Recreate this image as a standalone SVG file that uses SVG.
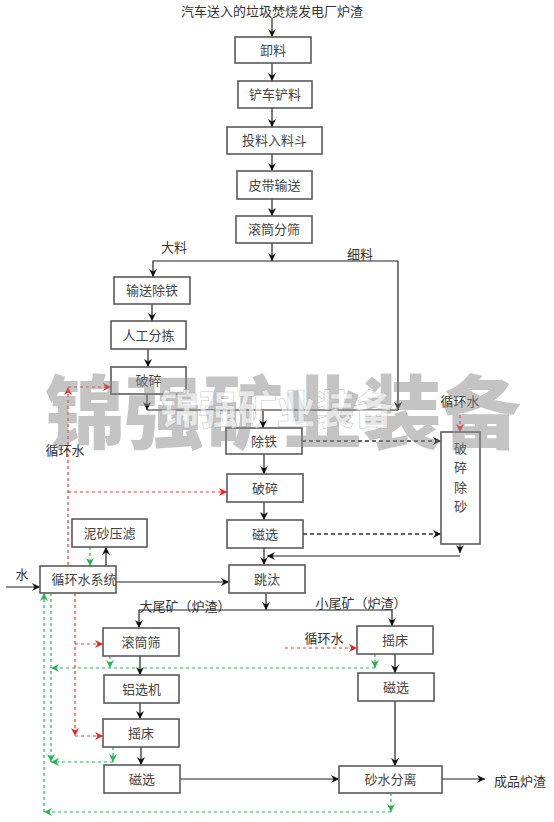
<svg xmlns="http://www.w3.org/2000/svg" width="554" height="822" viewBox="0 0 554 822">
<style>
.box{fill:#fff;stroke:#5a5a5a;stroke-width:1.6}
.t{font-family:"Noto Sans CJK SC","Liberation Serif",serif;font-size:13px;fill:#444;text-anchor:middle}
.lb{font-family:"Noto Sans CJK SC","Liberation Serif",serif;font-size:13px;fill:#333}
.c{fill:none;stroke:#222;stroke-width:1.2}
.cd{fill:none;stroke:#333;stroke-width:1.3;stroke-dasharray:4,3}
.r{fill:none;stroke:#ff3030;stroke-width:1.2;stroke-dasharray:3,3}
.g{fill:none;stroke:#22b85a;stroke-width:1.2;stroke-dasharray:3,3}
.wm{font-family:"Noto Sans CJK SC","DejaVu Sans",sans-serif;font-weight:900;fill:#8a8a8a;opacity:0.5}
</style>
<defs>
<marker id="ab" markerUnits="userSpaceOnUse" markerWidth="9" markerHeight="9" refX="8" refY="4.5" orient="auto"><path d="M0,0.5 L8,4.5 L0,8.5 L2.5,4.5 z" fill="#111"/></marker>
<marker id="ar" markerUnits="userSpaceOnUse" markerWidth="9" markerHeight="9" refX="8" refY="4.5" orient="auto"><path d="M0,0.5 L8,4.5 L0,8.5 L2.5,4.5 z" fill="#ff1a1a"/></marker>
<marker id="ag" markerUnits="userSpaceOnUse" markerWidth="9" markerHeight="9" refX="8" refY="4.5" orient="auto"><path d="M0,0.5 L8,4.5 L0,8.5 L2.5,4.5 z" fill="#1fb552"/></marker>
</defs>
<rect width="554" height="822" fill="#fff"/>

<g id="connectors">
<path class="c" d="M272,18 V37" marker-end="url(#ab)"/>
<path class="c" d="M272,63 V81" marker-end="url(#ab)"/>
<path class="c" d="M272,108 V127" marker-end="url(#ab)"/>
<path class="c" d="M272,154 V171" marker-end="url(#ab)"/>
<path class="c" d="M272,199 V216" marker-end="url(#ab)"/>
<path class="c" d="M272,243 V261" marker-end="url(#ab)"/>
<path class="c" d="M398,261 H153 V277" marker-end="url(#ab)"/>
<path class="c" d="M398,261 V410" marker-end="url(#ab)"/>
<path class="c" d="M152,304 V321" marker-end="url(#ab)"/>
<path class="c" d="M148,349 V367" marker-end="url(#ab)"/>
<path class="c" d="M147,394 V410" marker-end="url(#ab)"/>
<path class="c" d="M147,410 H398"/>
<path class="c" d="M263,411 V428" marker-end="url(#ab)"/>
<path class="cd" d="M302,441 H441" marker-end="url(#ab)"/>
<path class="c" d="M264,454 V474" marker-end="url(#ab)"/>
<path class="c" d="M264,502 V520" marker-end="url(#ab)"/>
<path class="cd" d="M303,534 H441" stroke="#555" marker-end="url(#ab)"/>
<path class="c" d="M264,548 V565" marker-end="url(#ab)"/>
<path class="c" d="M460,544 V553" marker-end="url(#ab)"/>
<path class="c" d="M460,556 H267" marker-end="url(#ab)"/>
<path class="c" d="M116,582 H229" marker-end="url(#ab)"/>
<path class="c" d="M6,587 H40" marker-end="url(#ab)"/>
<path class="c" d="M106,566 V547" marker-end="url(#ab)"/>
<path class="c" d="M266,593 V610" marker-end="url(#ab)"/>
<path class="c" d="M139,610 H392"/>
<path class="c" d="M139,610 V628" marker-end="url(#ab)"/>
<path class="c" d="M392,610 V626" marker-end="url(#ab)"/>
<path class="c" d="M140,656 V675" marker-end="url(#ab)"/>
<path class="c" d="M140,703 V719" marker-end="url(#ab)"/>
<path class="c" d="M141,747 V765" marker-end="url(#ab)"/>
<path class="c" d="M180,779 H339" marker-end="url(#ab)"/>
<path class="c" d="M395,654 V673" marker-end="url(#ab)"/>
<path class="c" d="M395,701 V766" marker-end="url(#ab)"/>
<path class="c" d="M442,779 H485" marker-end="url(#ab)"/>

<path class="r" d="M460,415 V432" marker-end="url(#ar)"/>
<path class="r" d="M68,565 V387" marker-end="url(#ar)"/>
<path class="r" d="M68,387 H111" marker-end="url(#ar)"/>
<path class="r" d="M68,492 H227" marker-end="url(#ar)"/>
<path class="r" d="M75,593 V736" marker-end="url(#ar)"/>
<path class="r" d="M75,644 H103" marker-end="url(#ar)"/>
<path class="r" d="M75,736 H103" marker-end="url(#ar)"/>
<path class="r" d="M285,648 H357" marker-end="url(#ar)"/>

<path class="g" d="M90,547 V566" marker-end="url(#ag)"/>
<path class="g" d="M391,793 V812" marker-end="url(#ag)"/>
<path class="g" d="M391,812 H44" marker-end="url(#ag)"/>
<path class="g" d="M44,812 V593" marker-end="url(#ag)"/>
<path class="g" d="M375,654 V668" marker-end="url(#ag)"/>
<path class="g" d="M375,668 H51" marker-end="url(#ag)"/>
<path class="g" d="M110,656 V668" marker-end="url(#ag)"/>
<path class="g" d="M51,593 V762" marker-end="url(#ag)"/>
<path class="g" d="M113,747 V762" marker-end="url(#ag)"/>
<path class="g" d="M113,762 H51" marker-end="url(#ag)"/>
</g>

<g id="labels">
<text class="lb" x="272" y="16" text-anchor="middle">汽车送入的垃圾焚烧发电厂炉渣</text>
<text class="lb" x="174" y="252" text-anchor="middle">大料</text>
<text class="lb" x="360" y="259" text-anchor="middle">细料</text>
<text class="lb" x="65" y="455" text-anchor="middle">循环水</text>
<text class="lb" x="460" y="406" text-anchor="middle">循环水</text>
<text class="lb" x="22" y="579" text-anchor="middle">水</text>
<text class="lb" x="185" y="611" text-anchor="middle">大尾矿（炉渣）</text>
<text class="lb" x="361" y="608" text-anchor="middle">小尾矿（炉渣）</text>
<text class="lb" x="324" y="643" text-anchor="middle">循环水</text>
<text class="lb" x="520" y="786" text-anchor="middle">成品炉渣</text>
</g>

<g id="n1"><rect class="box" x="235" y="37" width="76" height="26"/><text class="t" x="273" y="55">卸料</text></g>
<g id="n2"><rect class="box" x="238" y="81" width="74" height="27"/><text class="t" x="275" y="99">铲车铲料</text></g>
<g id="n3"><rect class="box" x="227" y="127" width="95" height="27"/><text class="t" x="274.5" y="145">投料入料斗</text></g>
<g id="n4"><rect class="box" x="237" y="171" width="75" height="28"/><text class="t" x="274.5" y="190">皮带输送</text></g>
<g id="n5"><rect class="box" x="236" y="216" width="76" height="27"/><text class="t" x="274" y="234">滚筒分筛</text></g>
<g id="n6"><rect class="box" x="114" y="277" width="76" height="27"/><text class="t" x="152" y="295">输送除铁</text></g>
<g id="n7"><rect class="box" x="111" y="321" width="75" height="28"/><text class="t" x="148.5" y="340">人工分拣</text></g>
<g id="n8"><rect class="box" x="111" y="367" width="75" height="27"/><text class="t" x="148.5" y="385">破碎</text></g>
<g id="n9"><rect class="box" x="226" y="428" width="76" height="26"/><text class="t" x="264" y="446">除铁</text></g>
<g id="n10"><rect class="box" x="441" y="432" width="39" height="112"/><text class="t" x="460.5" y="453">破</text><text class="t" x="460.5" y="472">碎</text><text class="t" x="460.5" y="492">除</text><text class="t" x="460.5" y="511">砂</text></g>
<g id="n11"><rect class="box" x="227" y="474" width="76" height="28"/><text class="t" x="265" y="493">破碎</text></g>
<g id="n12"><rect class="box" x="227" y="520" width="76" height="28"/><text class="t" x="265" y="539">磁选</text></g>
<g id="n13"><rect class="box" x="72" y="519" width="75" height="28"/><text class="t" x="109.5" y="538">泥砂压滤</text></g>
<g id="n14"><rect class="box" x="40" y="566" width="76" height="27"/><text class="t" x="84" y="584">循环水系统</text></g>
<g id="n15"><rect class="box" x="229" y="565" width="76" height="28"/><text class="t" x="267" y="584">跳汰</text></g>
<g id="n16"><rect class="box" x="103" y="628" width="76" height="28"/><text class="t" x="141" y="647">滚筒筛</text></g>
<g id="n17"><rect class="box" x="104" y="675" width="75" height="28"/><text class="t" x="141.5" y="694">铝选机</text></g>
<g id="n18"><rect class="box" x="103" y="719" width="76" height="28"/><text class="t" x="141" y="738">摇床</text></g>
<g id="n19"><rect class="box" x="104" y="765" width="76" height="28"/><text class="t" x="142" y="784">磁选</text></g>
<g id="n20"><rect class="box" x="357" y="626" width="76" height="28"/><text class="t" x="395" y="645">摇床</text></g>
<g id="n21"><rect class="box" x="358" y="673" width="76" height="28"/><text class="t" x="396" y="692">磁选</text></g>
<g id="n22"><rect class="box" x="339" y="766" width="103" height="27"/><text class="t" x="390.5" y="784">砂水分离</text></g>

<g id="watermark">
<text class="wm" x="45" y="442" font-size="80" textLength="476" lengthAdjust="spacingAndGlyphs">锦强矿业装备</text>
<text x="160" y="424" font-size="40" textLength="233" lengthAdjust="spacingAndGlyphs" font-family="Noto Sans CJK SC,sans-serif" font-weight="900" fill="#ffffff" fill-opacity="0.6" stroke="#9a9a9a" stroke-width="0.6" stroke-opacity="0.6">锦强矿业装备</text>
</g>
</svg>
